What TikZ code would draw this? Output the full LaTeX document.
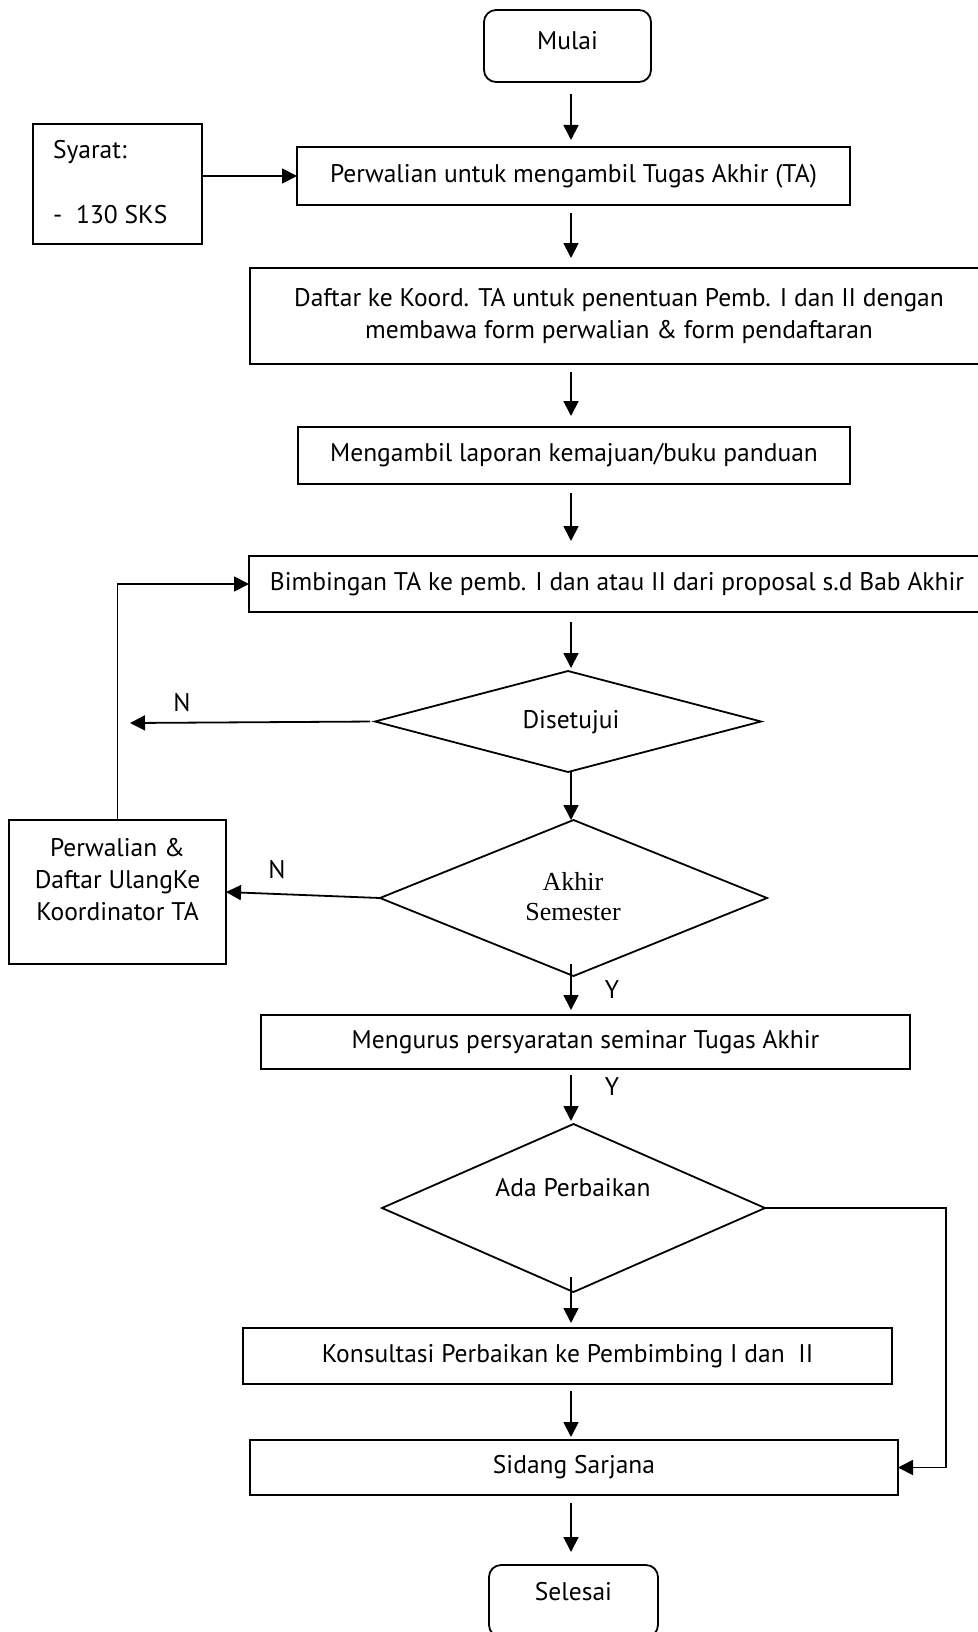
\documentclass[tikz,border=0pt]{standalone}
\usepackage{fontspec}
\setmainfont{PT Sans}
\newfontfamily\tnr{Liberation Serif}
\usetikzlibrary{arrows.meta,shapes.geometric}
\begin{document}
\begin{tikzpicture}[x=1pt,y=-1pt,
 every node/.style={font=\fontsize{25.5}{32}\selectfont, inner sep=0pt, outer sep=0pt},
 box/.style={draw, line width=1.8pt, rectangle},
 term/.style={box, rounded corners=12pt},
 dec/.style={draw, line width=1.8pt, diamond},
 arr/.style={line width=1.8pt, -{Triangle[length=15pt,width=15pt]}},
 lbl/.style={font=\fontsize{25.5}{32}\selectfont}]
\useasboundingbox (0,0) rectangle (977,1632);
\coordinate (ax) at (571,0);
% nodes
\node[term, minimum width=167pt, minimum height=72pt] (mulai) at (567.5,46) {};
\node (mulait) at (567.5,41) {Mulai};
\node[box, minimum width=169pt, minimum height=120pt] (syarat) at (117.5,184) {};
\node[anchor=west] (syarat1) at (53,152) {Syarat:};
\node[anchor=west] (syarat2) at (53,215) {-\hspace{14pt}130 SKS};
\node[box, minimum width=553pt, minimum height=58pt] (perw) at (573.5,176) {Perwalian untuk mengambil Tugas Akhir (TA)};
\node[box, minimum width=738pt, minimum height=96pt, align=center] (daftar) at (619,316) {Daftar ke Koord. TA untuk penentuan Pemb. I dan II dengan\\membawa form perwalian \& form pendaftaran};
\node[box, minimum width=552pt, minimum height=57pt] (ambil) at (574,455.5) {Mengambil laporan kemajuan/buku panduan};
\node[box, minimum width=736pt, minimum height=56pt] (bimb) at (617,584) {Bimbingan TA ke pemb. I dan atau II dari proposal s.d Bab Akhir};
\node[dec, minimum width=386pt, minimum height=101pt] (dise) at (568,721.5) {};
\node (diset) at (571,722) {Disetujui};
\node[dec, minimum width=387pt, minimum height=156pt] (akhir) at (573.5,898) {};
\node[align=center, font=\tnr\fontsize{26}{30}\selectfont] (akhirt) at (573,897) {Akhir\\Semester};
\node[box, minimum width=217pt, minimum height=144pt] (pd) at (117.5,892) {};
\node[align=center] (pdt) at (117.5,880) {Perwalian \&\\Daftar UlangKe\\Koordinator TA};
\node[box, minimum width=649pt, minimum height=54pt] (urus) at (585.5,1042) {Mengurus persyaratan seminar Tugas Akhir};
\node[dec, minimum width=383pt, minimum height=168pt] (ada) at (573.5,1208) {};
\node (adat) at (573,1188) {Ada Perbaikan};
\node[box, minimum width=649pt, minimum height=56pt] (kons) at (567.5,1356) {Konsultasi Perbaikan ke Pembimbing I dan\ \ II};
\node[box, minimum width=648pt, minimum height=55pt] (sidang) at (574,1467.5) {Sidang Sarjana};
\node[term, minimum width=169pt, minimum height=72pt] (selesai) at (573.5,1601) {};
\node (selesait) at (573.5,1592) {Selesai};
% labels
\node[lbl] (n1) at (182,703) {N};
\node[lbl] (n2) at (277,870) {N};
\node[lbl] (y1) at (612,990) {Y};
\node[lbl] (y2) at (612,1087) {Y};
% connectors
\draw[arr, shorten <=12pt, shorten >=7pt] (mulai.south -| ax) -- (perw.north -| ax);
\draw[arr] (syarat.east |- perw.west) -- (perw.west);
\draw[arr, shorten <=8pt, shorten >=10pt] (perw.south -| ax) -- (daftar.north -| ax);
\draw[arr, shorten <=8pt, shorten >=11pt] (daftar.south -| ax) -- (ambil.north -| ax);
\draw[arr, shorten <=9pt, shorten >=15pt] (ambil.south -| ax) -- (bimb.north -| ax);
\draw[arr, shorten <=10pt, shorten >=3pt] (bimb.south -| ax) -- (dise.north -| ax);
\draw[arr] (dise.south -| ax) -- (akhir.north -| ax);
\draw[arr, shorten <=-12pt, shorten >=5pt] (akhir.south -| ax) -- (urus.north -| ax);
\draw[arr, shorten <=6pt, shorten >=3pt] (urus.south -| ax) -- (ada.north -| ax);
\draw[arr, shorten <=-15pt, shorten >=5pt] (ada.south -| ax) -- (kons.north -| ax);
\draw[arr, shorten <=7pt, shorten >=3pt] (kons.south -| ax) -- (sidang.north -| ax);
\draw[arr, shorten <=8pt, shorten >=13pt] (sidang.south -| ax) -- (selesai.north -| ax);
\coordinate (nleft) at (130,723);
\draw[arr, shorten <=5pt] (dise.west) -- (nleft);
\draw[arr] (akhir.west) -- (pd.east);
\draw[arr] (pd.north) |- (bimb.west);
\coordinate (rt) at (946,1208);
\draw[arr] (ada.east) -- (rt) |- (sidang.east);
\end{tikzpicture}
\end{document}
